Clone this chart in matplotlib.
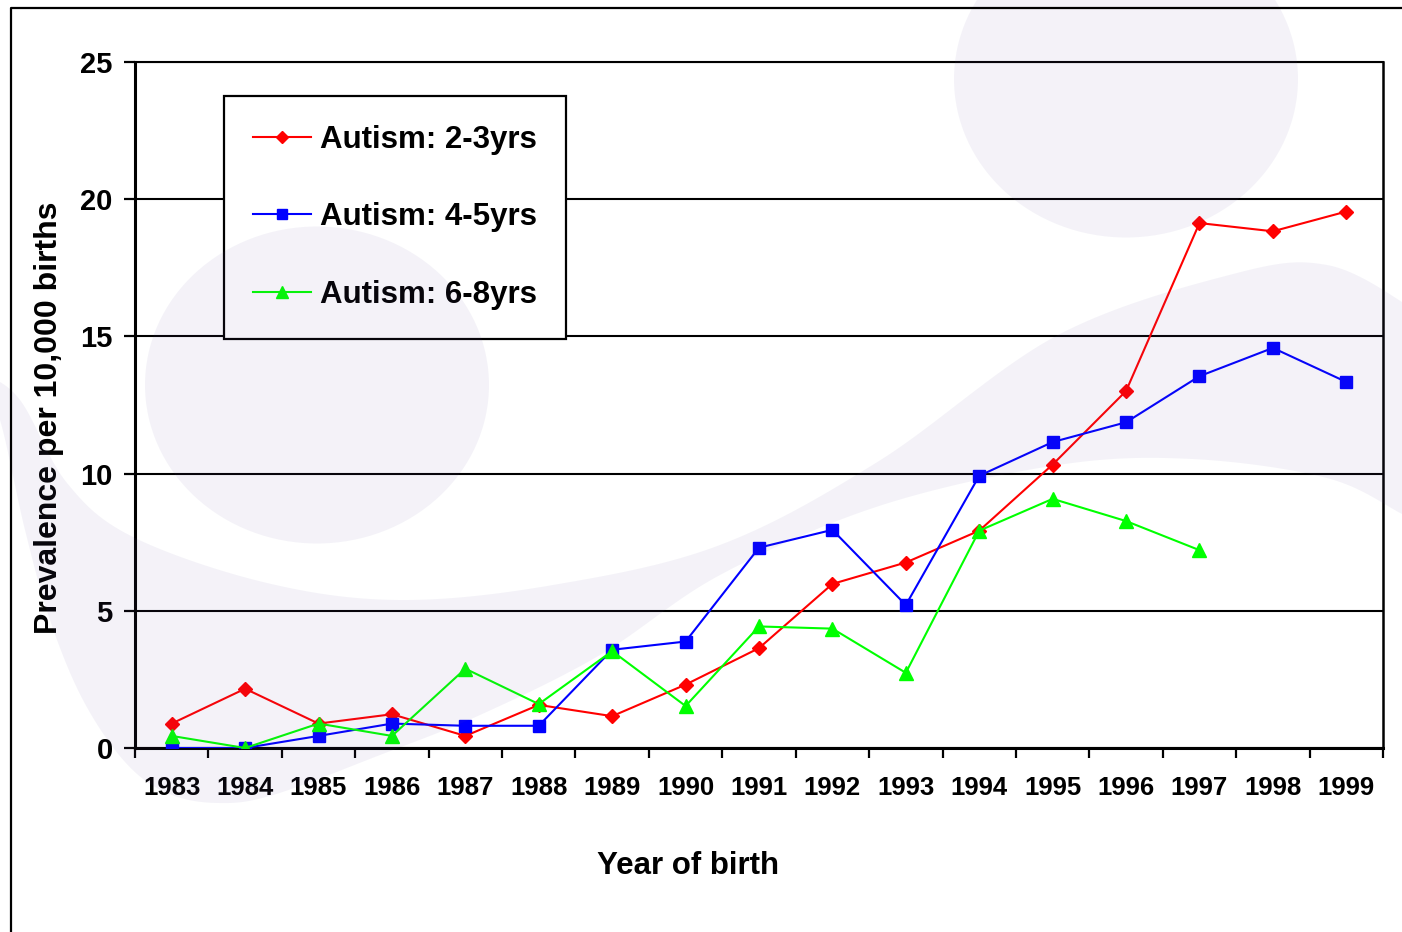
import numpy as np
import matplotlib
matplotlib.use('Agg')
import matplotlib.pyplot as plt
from matplotlib.patches import Ellipse, Polygon
from matplotlib.lines import Line2D
from matplotlib.transforms import Affine2D

# ---------------- data ----------------
years = ['1983', '1984', '1985', '1986', '1987', '1988', '1989', '1990', '1991',
         '1992', '1993', '1994', '1995', '1996', '1997', '1998', '1999']
autism_2_3 = [0.89, 2.16, 0.89, 1.23, 0.44, 1.57, 1.16, 2.31, 3.64, 5.98, 6.76,
              7.92, 10.33, 13.01, 19.13, 18.83, 19.55]
autism_4_5 = [0.0, 0.0, 0.44, 0.89, 0.81, 0.81, 3.58, 3.88, 7.30, 7.95, 5.21,
              9.92, 11.15, 11.87, 13.55, 14.58, 13.34]
autism_6_8 = [0.44, 0.0, 0.89, 0.44, 2.89, 1.60, 3.53, 1.53, 4.43, 4.35, 2.74,
              7.92, 9.08, 8.27, 7.21, None, None]
series_labels = ['Autism: 2-3yrs', 'Autism: 4-5yrs', 'Autism: 6-8yrs']
y_ticks = [0, 5, 10, 15, 20, 25]

W, H = 1402, 932
plt.rcParams['font.family'] = ['Liberation Sans', 'DejaVu Sans']
plt.rcParams['font.weight'] = 'bold'

fig = plt.figure(figsize=(W / 100, H / 100), dpi=100)
fig.patch.set_facecolor('white')
L, R, T, B = 135, 1383, 62, 748
ax = fig.add_axes([L / W, 1 - B / H, (R - L) / W, (B - T) / H])
ax.set_facecolor('none')

x = np.arange(len(years)) + 0.5
ax.plot(x, np.array(autism_2_3, dtype=float), color='#ff0000', lw=1.5, marker='D',
        ms=7.0, label=series_labels[0], zorder=5)
ax.plot(x, np.array(autism_4_5, dtype=float), color='#0000ff', lw=1.5, marker='s',
        ms=8.2, label=series_labels[1], zorder=5)
ax.plot(x, np.array(autism_6_8, dtype=float), color='#00ff00', lw=1.5, marker='^',
        ms=10.0, label=series_labels[2], zorder=5)

ax.set_xlim(0, len(years))
ax.set_ylim(0, 25)
ax.set_xticks(np.arange(len(years) + 1))
ax.set_xticks(x, minor=True)
ax.set_xticklabels([])
ax.set_xticklabels(years, minor=True, fontsize=18.5, fontweight='bold')
ax.tick_params(axis='x', which='major', length=7, width=1.6, direction='out')
ax.tick_params(axis='x', which='minor', length=0, pad=20)
ax.set_yticks(y_ticks)
ax.set_yticklabels([str(v) for v in y_ticks], fontsize=21, fontweight='bold')
ax.tick_params(axis='y', length=8, width=1.6, direction='out', pad=8)

ax.grid(axis='y', color='black', lw=1.5, zorder=1)
ax.set_axisbelow(True)
for side, lw in [('left', 2.2), ('bottom', 2.2), ('right', 1.8), ('top', 1.5)]:
    ax.spines[side].set_linewidth(lw)
    ax.spines[side].set_color('black')

ax.set_ylabel('Prevalence per 10,000 births', fontsize=23, fontweight='bold')
ax.yaxis.set_label_coords((64 - L) / (R - L), (B - 418) / (B - T))
ax.set_xlabel('Year of birth', fontsize=22.5, fontweight='bold')
ax.xaxis.set_label_coords((688 - L) / (R - L), (B - 851) / (B - T))

leg = ax.legend(loc='upper left', bbox_to_anchor=(224 / W, 1 - 96 / H),
                bbox_transform=fig.transFigure, borderaxespad=0,
                frameon=True, fancybox=False, framealpha=1,
                edgecolor='black', facecolor='white', handlelength=1.85,
                handletextpad=0.3, labelspacing=1.52, borderpad=0.92,
                markerscale=0.9, prop={'weight': 'bold', 'size': 22.5})
leg.get_frame().set_linewidth(1.6)
leg.set_zorder(6)

# ---------------- decorative watermark (pixel coordinates) ----------------
tr = Affine2D().scale(1, -1).translate(0, H)


def smooth(pts, n=20):
    p = np.asarray(pts, dtype=float)
    p = np.vstack([2 * p[0] - p[1], p, 2 * p[-1] - p[-2]])
    out = []
    for i in range(1, len(p) - 2):
        p0, p1, p2, p3 = p[i - 1], p[i], p[i + 1], p[i + 2]
        for t in np.linspace(0, 1, n, endpoint=False):
            t2, t3 = t * t, t * t * t
            out.append(0.5 * (2 * p1 + (-p0 + p2) * t + (2 * p0 - 5 * p1 + 4 * p2 - p3) * t2
                              + (-p0 + 3 * p1 - 3 * p2 + p3) * t3))
    out.append(p[-2])
    return np.array(out)


inner = [(-20, 370), (20, 400), (67, 483), (133, 537), (267, 583), (400, 600),
         (553, 585), (720, 545), (879, 461), (1058, 335), (1237, 273), (1327, 265),
         (1402, 302), (1430, 330)]
outer = [(1430, 530), (1402, 514), (1327, 478), (1192, 459), (1058, 465), (879, 506),
         (720, 575), (600, 655), (480, 715), (380, 755), (273, 795), (217, 803),
         (167, 793), (125, 762), (83, 700), (50, 620), (25, 530), (0, 420), (-20, 380)]
crescent = np.vstack([smooth(inner), smooth(outer)])
wm = dict(facecolor='#6450a0', edgecolor='none', alpha=0.072, transform=tr, zorder=20)
fig.patches.append(Polygon(crescent, closed=True, **wm))
fig.patches.append(Ellipse((317, 385), 344, 317, **wm))
fig.patches.append(Ellipse((1126, 79), 344, 317, **wm))

# outer slide frame (top and left only visible)
fig.lines.append(Line2D([11, 11, W + 5], [H + 5, 7.5, 7.5], color='black', lw=1.6,
                        transform=tr, zorder=25))

fig.savefig('out.png', dpi=100)
